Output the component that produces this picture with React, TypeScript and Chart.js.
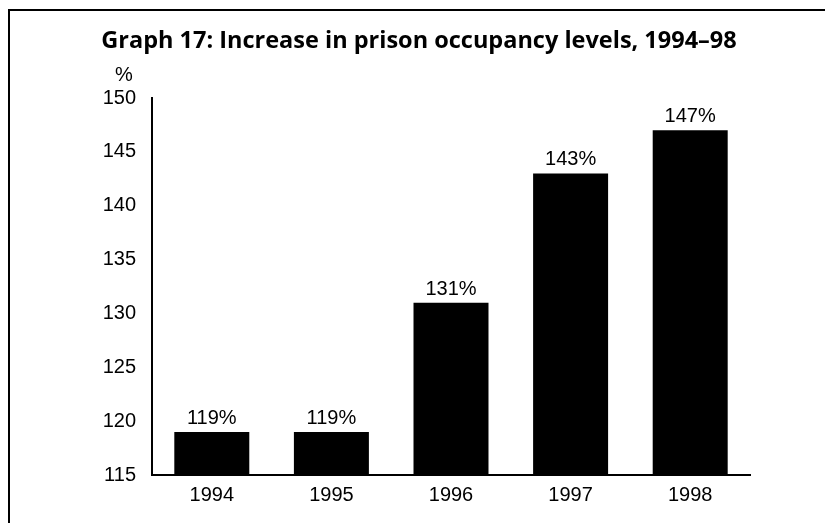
import React, { useEffect, useRef } from "react";
import { Chart, registerables } from "chart.js";

Chart.register(...registerables);

const categories = ["1994", "1995", "1996", "1997", "1998"];
const occupancy = [119, 119, 131, 143, 147];
const yTicks = [115, 120, 125, 130, 135, 140, 145, 150];
const titleText = "Graph 17: Increase in prison occupancy levels, 1994\u201398";
const unitLabel = "%";

const decorPlugin = {
  id: "decor",
  afterDraw(chart: any) {
    const ctx = chart.ctx;
    ctx.save();
    // frame
    ctx.strokeStyle = "#000";
    ctx.lineWidth = 2;
    ctx.beginPath();
    ctx.moveTo(9, 523);
    ctx.lineTo(9, 10);
    ctx.lineTo(825, 10);
    ctx.stroke();
    // title
    ctx.fillStyle = "#000";
    ctx.font = "bold 23.5px 'Open Sans'";
    ctx.textAlign = "center";
    ctx.textBaseline = "middle";
    ctx.fillText(titleText, 419, 41);
    // unit
    ctx.font = "20px 'Liberation Sans', Arial";
    ctx.fillText(unitLabel, 124, 75);
    // value labels
    const meta = chart.getDatasetMeta(0);
    ctx.textBaseline = "alphabetic";
    meta.data.forEach((bar: any, i: number) => {
      ctx.fillText(occupancy[i] + "%", bar.x, bar.y - 8);
    });
    ctx.restore();
  },
};

export default function App() {
  const ref = useRef<HTMLCanvasElement>(null);
  useEffect(() => {
    if (!ref.current) return;
    const chart = new Chart(ref.current, {
      type: "bar",
      data: {
        labels: categories,
        datasets: [
          {
            data: occupancy,
            backgroundColor: "#000",
            borderWidth: 0,
            categoryPercentage: 1,
            barPercentage: 0.627,
          },
        ],
      },
      options: {
        responsive: false,
        animation: false,
        layout: { padding: { left: 0, right: 75, top: 98, bottom: 0 } },
        plugins: {
          legend: { display: false },
          title: { display: false },
          tooltip: { enabled: false },
        },
        scales: {
          x: {
            grid: { display: false, drawTicks: false },
            border: { display: true, color: "#000", width: 2 },
            ticks: {
              color: "#000",
              font: { family: "'Liberation Sans', Arial", size: 20 },
              padding: 8,
            },
            afterFit(axis: any) {
              axis.height = 48;
            },
          },
          y: {
            min: 115,
            max: 150,
            afterBuildTicks(axis: any) {
              axis.ticks = yTicks.map((v) => ({ value: v }));
            },
            grid: { display: false, drawTicks: false },
            border: { display: true, color: "#000", width: 2 },
            ticks: {
              color: "#000",
              font: { family: "'Liberation Sans', Arial", size: 20 },
              padding: 16,
            },
            afterFit(axis: any) {
              axis.width = 152;
            },
          },
        },
      },
      plugins: [decorPlugin],
    });
    return () => chart.destroy();
  }, []);
  return (
    <div style={{ position: "fixed", left: 0, top: 0, width: 825, height: 523, background: "#fff" }}>
      <canvas ref={ref} width={825} height={523} />
    </div>
  );
}
